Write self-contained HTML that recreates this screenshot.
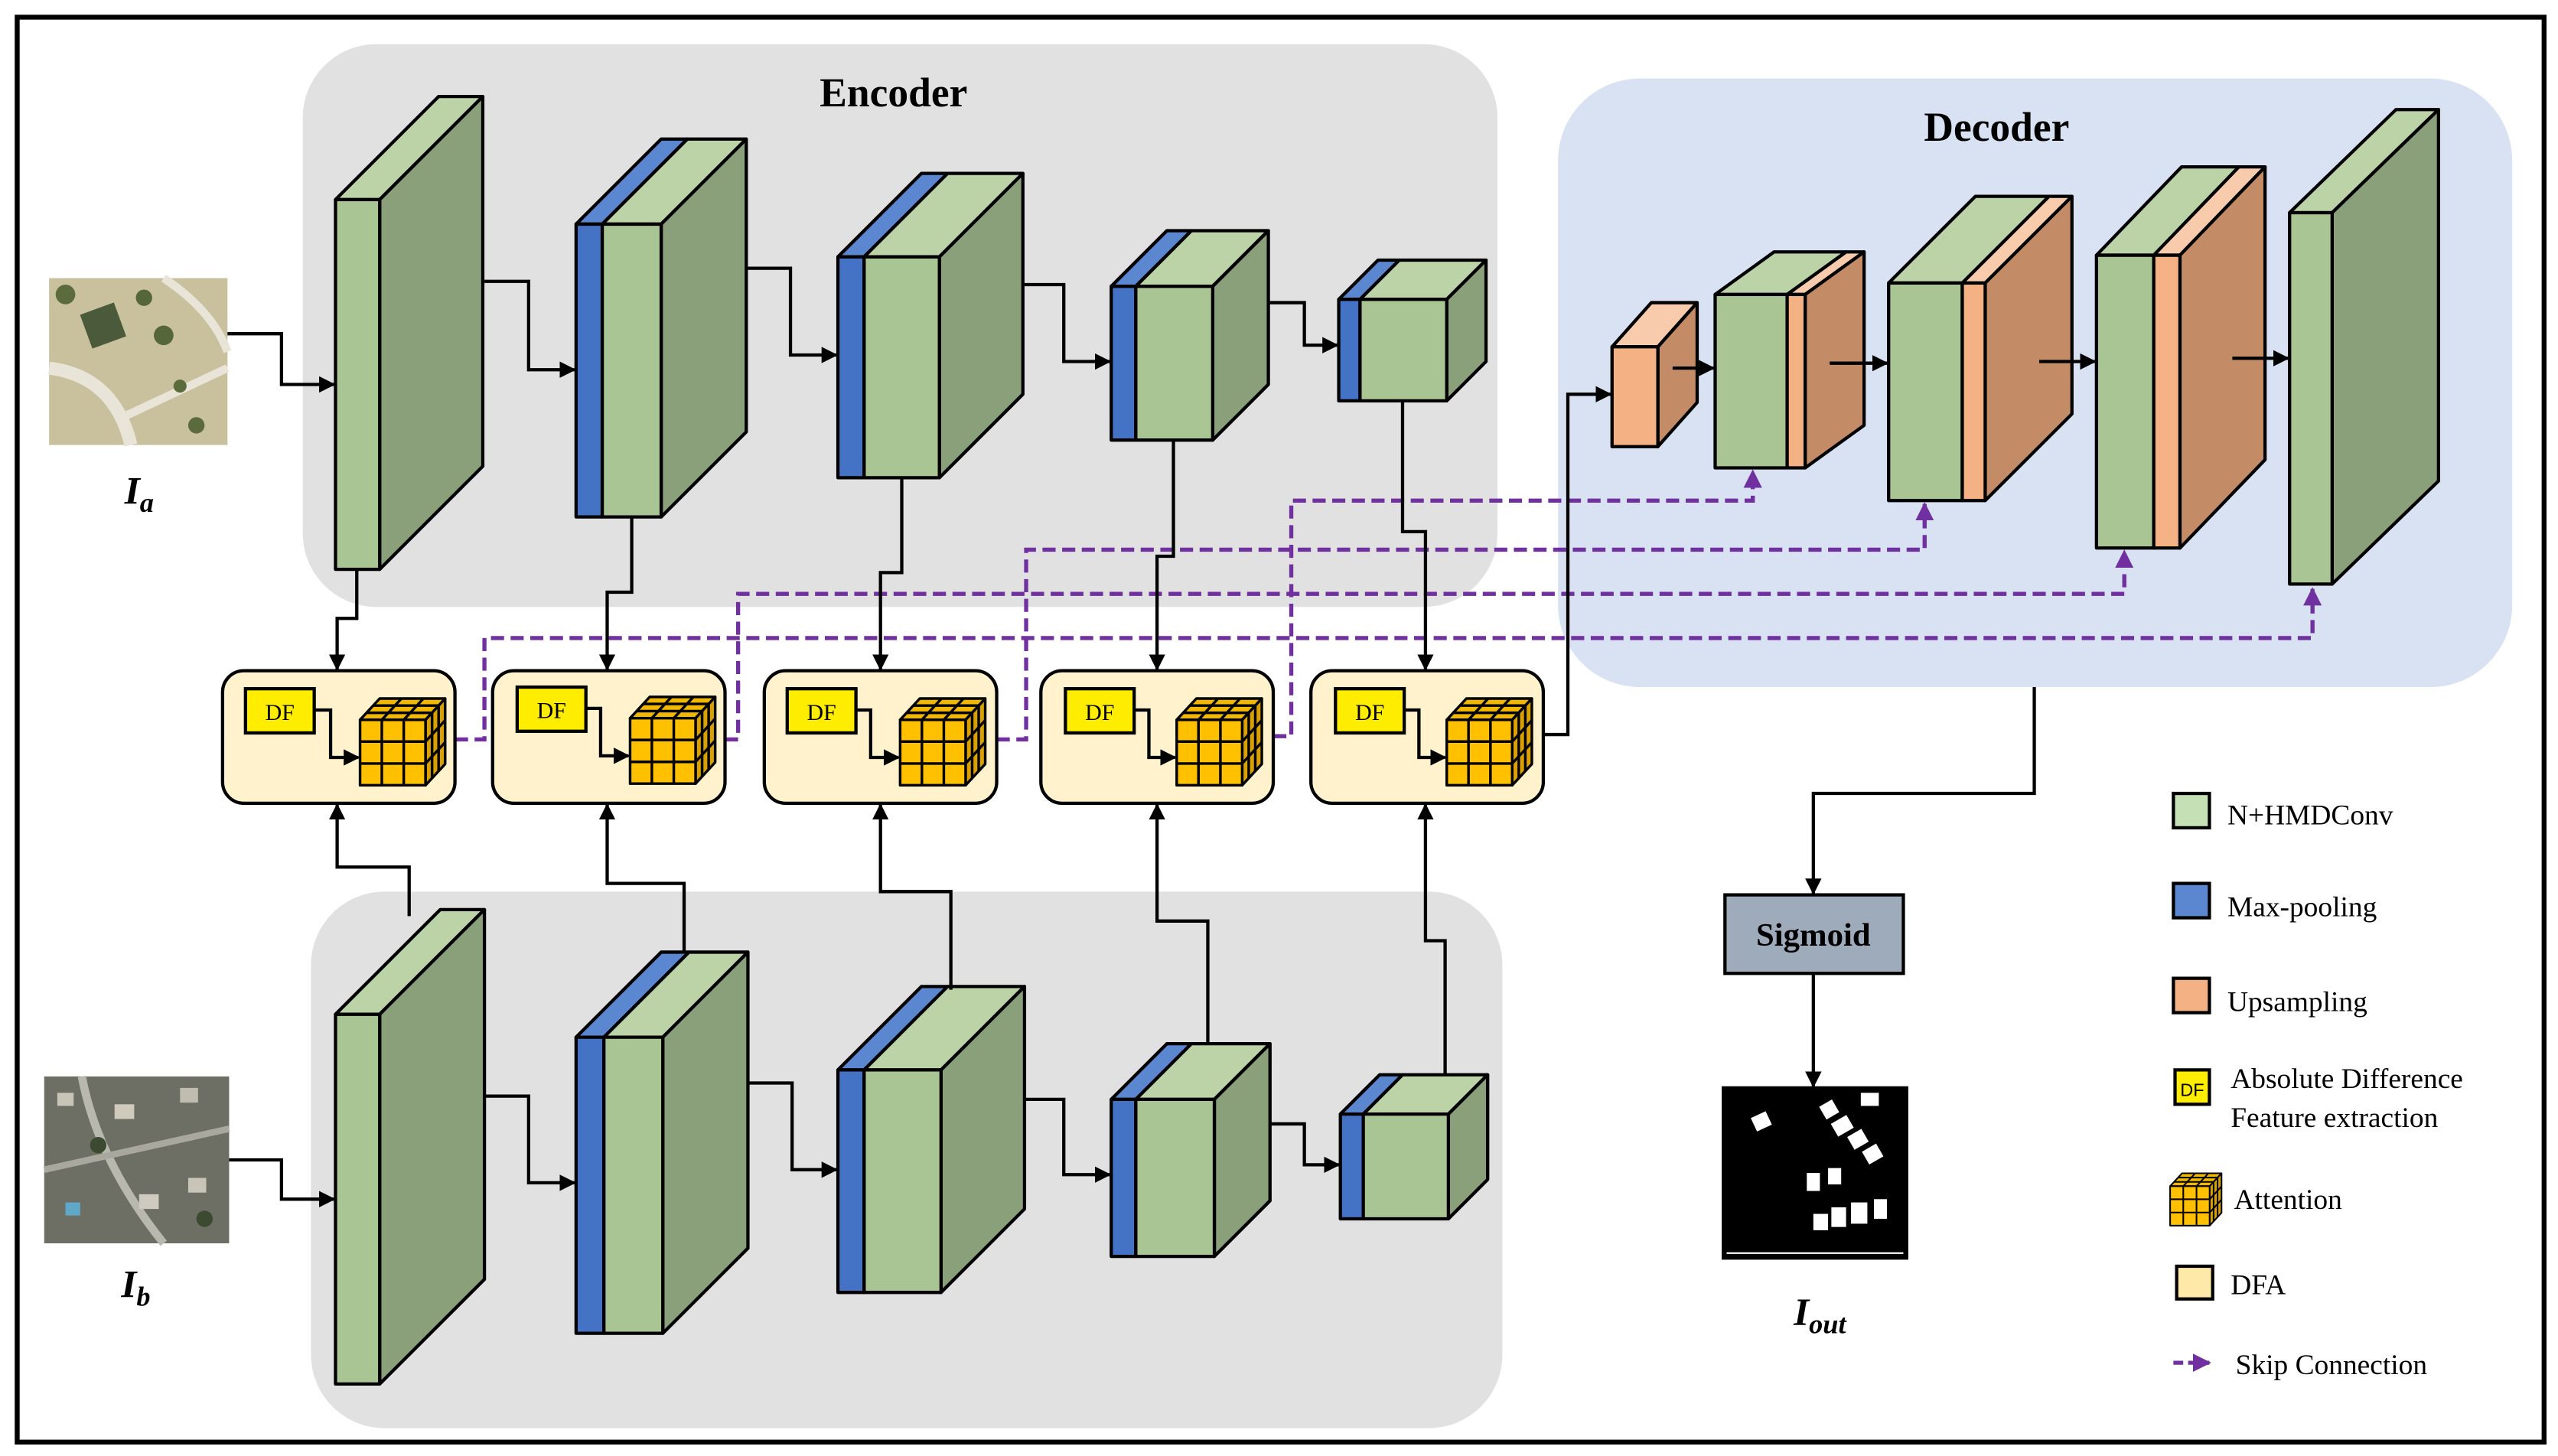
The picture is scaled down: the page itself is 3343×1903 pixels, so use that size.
<!DOCTYPE html>
<html><head><meta charset="utf-8"><style>html,body{margin:0;padding:0;background:#fff}svg{display:block}</style></head>
<body>
<svg width="3343" height="1903" viewBox="0 0 1563 890" preserveAspectRatio="none" xmlns="http://www.w3.org/2000/svg" font-family="'Liberation Serif', serif">
<defs>
<marker id="ar" viewBox="0 0 10 10" refX="9" refY="5" markerWidth="5" markerHeight="5" orient="auto" markerUnits="strokeWidth"><path d="M0,0 L10,5 L0,10 z" fill="#000"/></marker>
<marker id="ap" viewBox="0 0 10 10" refX="9" refY="5" markerWidth="4.5" markerHeight="4.5" orient="auto" markerUnits="strokeWidth"><path d="M0,0 L10,5 L0,10 z" fill="#7030a0"/></marker>
<symbol id="cube" viewBox="0 0 53 54" width="53" height="54" overflow="visible">
<g stroke="#000" stroke-width="1.6" stroke-linejoin="round">
<polygon points="0,13 12,0 52,0 40,13" fill="#f2b800"/>
<polygon points="40,13 52,0 52,40 40,53" fill="#d9a000"/>
<rect x="0" y="13" width="40" height="40" fill="#ffc000"/>
<line x1="13.3" y1="13" x2="13.3" y2="53"/><line x1="26.7" y1="13" x2="26.7" y2="53"/>
<line x1="0" y1="26.3" x2="40" y2="26.3"/><line x1="0" y1="39.7" x2="40" y2="39.7"/>
<line x1="13.3" y1="13" x2="25.3" y2="0"/><line x1="26.7" y1="13" x2="38.7" y2="0"/>
<line x1="4" y1="8.7" x2="44" y2="8.7"/><line x1="8" y1="4.3" x2="48" y2="4.3"/>
<line x1="44" y1="8.7" x2="44" y2="48.7"/><line x1="48" y1="4.3" x2="48" y2="44.3"/>
<line x1="40" y1="26.3" x2="52" y2="13.3"/><line x1="40" y1="39.7" x2="52" y2="26.7"/>
</g></symbol>
</defs>

<!-- frame -->
<rect x="10.5" y="10.5" width="1544" height="871" fill="#fff" stroke="#000" stroke-width="3"/>

<!-- regions -->
<rect x="185" y="27" width="730" height="344" rx="45" fill="#e1e1e1"/>
<rect x="190" y="545" width="728" height="328" rx="45" fill="#e1e1e1"/>
<rect x="952" y="48" width="583" height="372" rx="50" fill="#d9e2f3"/>

<text x="546" y="65" font-size="25" font-weight="bold" text-anchor="middle">Encoder</text>
<text x="1220" y="86" font-size="25" font-weight="bold" text-anchor="middle">Decoder</text>

<!-- input images -->
<g>
<rect x="30" y="170" width="109" height="102" fill="#c9c09e"/>
<rect x="30" y="170" width="109" height="102" fill="none"/>
<path d="M30,225 Q70,230 80,272" stroke="#e8e4d8" stroke-width="8" fill="none"/>
<path d="M75,255 L139,225" stroke="#e8e4d8" stroke-width="5" fill="none"/>
<path d="M100,170 Q130,190 139,215" stroke="#e8e4d8" stroke-width="5" fill="none"/>
<rect x="52" y="188" width="22" height="22" fill="#4b5a3a" transform="rotate(-20 63 199)"/>
<circle cx="40" cy="180" r="6" fill="#5c6b3c"/><circle cx="100" cy="205" r="6" fill="#55673a"/>
<circle cx="120" cy="260" r="5" fill="#5c6b3c"/><circle cx="88" cy="182" r="5" fill="#55673a"/>
<circle cx="110" cy="236" r="4" fill="#5c6b3c"/>
</g>
<g>
<rect x="27" y="658" width="113" height="102" fill="#6e6f64"/>
<path d="M50,658 Q60,710 100,760" stroke="#b8b8ae" stroke-width="5" fill="none"/>
<path d="M27,715 L140,690" stroke="#a8a89e" stroke-width="4" fill="none"/>
<rect x="35" y="668" width="10" height="8" fill="#c9c4b8"/><rect x="70" y="675" width="12" height="9" fill="#d0cabd"/>
<rect x="110" y="665" width="11" height="9" fill="#c0bcb0"/><rect x="85" y="730" width="12" height="9" fill="#cfcabf"/>
<rect x="115" y="720" width="11" height="9" fill="#c9c4b8"/><rect x="40" y="735" width="9" height="8" fill="#5fa8c8"/>
<circle cx="60" cy="700" r="5" fill="#3d4a32"/><circle cx="125" cy="745" r="5" fill="#3d4a32"/>
</g>
<text x="85" y="308" font-size="24" font-weight="bold" font-style="italic" text-anchor="middle">I<tspan font-size="17" dy="5">a</tspan></text>
<text x="83" y="793" font-size="24" font-weight="bold" font-style="italic" text-anchor="middle">I<tspan font-size="17" dy="5">b</tspan></text>

<g stroke="#000" stroke-width="2" stroke-linejoin="round">
<!-- top encoder -->
<polygon points="205,122 268,59 295,59 232,122" fill="#bcd3a8"/><polygon points="232,122 295,59 295,285 232,348" fill="#8aa07a"/><rect x="205" y="122" width="27" height="226" fill="#a9c593"/>

<polygon points="352,137 404,85 420,85 368,137" fill="#5b86d0"/><polygon points="368,137 420,85 456,85 404,137" fill="#bcd3a8"/><polygon points="404,137 456,85 456,264 404,316" fill="#8aa07a"/><rect x="352" y="137" width="16" height="179" fill="#4472c4"/><rect x="368" y="137" width="36" height="179" fill="#a9c593"/>

<polygon points="512,157 563,106 579,106 528,157" fill="#5b86d0"/><polygon points="528,157 579,106 625,106 574,157" fill="#bcd3a8"/><polygon points="574,157 625,106 625,241 574,292" fill="#8aa07a"/><rect x="512" y="157" width="16" height="135" fill="#4472c4"/><rect x="528" y="157" width="46" height="135" fill="#a9c593"/>

<polygon points="679,175 713,141 728,141 694,175" fill="#5b86d0"/><polygon points="694,175 728,141 775,141 741,175" fill="#bcd3a8"/><polygon points="741,175 775,141 775,235 741,269" fill="#8aa07a"/><rect x="679" y="175" width="15" height="94" fill="#4472c4"/><rect x="694" y="175" width="47" height="94" fill="#a9c593"/>

<polygon points="818,183 842,159 855,159 831,183" fill="#5b86d0"/><polygon points="831,183 855,159 908,159 884,183" fill="#bcd3a8"/><polygon points="884,183 908,159 908,221 884,245" fill="#8aa07a"/><rect x="818" y="183" width="13" height="62" fill="#4472c4"/><rect x="831" y="183" width="53" height="62" fill="#a9c593"/>

<!-- bottom encoder -->
<polygon points="205,620 269,556 296,556 232,620" fill="#bcd3a8"/><polygon points="232,620 296,556 296,782 232,846" fill="#8aa07a"/><rect x="205" y="620" width="27" height="226" fill="#a9c593"/>

<polygon points="352,634 404,582 421,582 369,634" fill="#5b86d0"/><polygon points="369,634 421,582 457,582 405,634" fill="#bcd3a8"/><polygon points="405,634 457,582 457,763 405,815" fill="#8aa07a"/><rect x="352" y="634" width="17" height="181" fill="#4472c4"/><rect x="369" y="634" width="36" height="181" fill="#a9c593"/>

<polygon points="512,654 563,603 579,603 528,654" fill="#5b86d0"/><polygon points="528,654 579,603 626,603 575,654" fill="#bcd3a8"/><polygon points="575,654 626,603 626,739 575,790" fill="#8aa07a"/><rect x="512" y="654" width="16" height="136" fill="#4472c4"/><rect x="528" y="654" width="47" height="136" fill="#a9c593"/>

<polygon points="679,672 713,638 728,638 694,672" fill="#5b86d0"/><polygon points="694,672 728,638 776,638 742,672" fill="#bcd3a8"/><polygon points="742,672 776,638 776,734 742,768" fill="#8aa07a"/><rect x="679" y="672" width="15" height="96" fill="#4472c4"/><rect x="694" y="672" width="48" height="96" fill="#a9c593"/>

<polygon points="819,681 843,657 857,657 833,681" fill="#5b86d0"/><polygon points="833,681 857,657 909,657 885,681" fill="#bcd3a8"/><polygon points="885,681 909,657 909,721 885,745" fill="#8aa07a"/><rect x="819" y="681" width="14" height="64" fill="#4472c4"/><rect x="833" y="681" width="52" height="64" fill="#a9c593"/>

<!-- decoder -->
<polygon points="985,212 1009,185 1037,185 1013,212" fill="#f8cbad"/><polygon points="1013,212 1037,185 1037,246 1013,273" fill="#c48c66"/><rect x="985" y="212" width="28" height="61" fill="#f4b183"/>

<polygon points="1048,180 1084,154 1128,154 1092,180" fill="#bcd3a8"/><polygon points="1092,180 1128,154 1139,154 1103,180" fill="#f8cbad"/><polygon points="1103,180 1139,154 1139,260 1103,286" fill="#c48c66"/><rect x="1048" y="180" width="44" height="106" fill="#a9c593"/><rect x="1092" y="180" width="11" height="106" fill="#f4b183"/>

<polygon points="1154,173 1207,120 1252,120 1199,173" fill="#bcd3a8"/><polygon points="1199,173 1252,120 1266,120 1213,173" fill="#f8cbad"/><polygon points="1213,173 1266,120 1266,253 1213,306" fill="#c48c66"/><rect x="1154" y="173" width="45" height="133" fill="#a9c593"/><rect x="1199" y="173" width="14" height="133" fill="#f4b183"/>

<polygon points="1281,156 1333,102 1368,102 1316,156" fill="#bcd3a8"/><polygon points="1316,156 1368,102 1384,102 1332,156" fill="#f8cbad"/><polygon points="1332,156 1384,102 1384,281 1332,335" fill="#c48c66"/><rect x="1281" y="156" width="35" height="179" fill="#a9c593"/><rect x="1316" y="156" width="16" height="179" fill="#f4b183"/>

<polygon points="1399,130 1464,67 1490,67 1425,130" fill="#bcd3a8"/><polygon points="1425,130 1490,67 1490,294 1425,357" fill="#8aa07a"/><rect x="1399" y="130" width="26" height="227" fill="#a9c593"/>
</g>

<!-- skip connections -->
<g stroke="#7030a0" stroke-width="2.5" stroke-dasharray="8,4" fill="none">
<polyline points="278,452 296,452 296,390 1413,390 1413,360" marker-end="url(#ap)"/>
<polyline points="443,452 451,452 451,363 1298,363 1298,337" marker-end="url(#ap)"/>
<polyline points="609,452 627,452 627,336 1176,336 1176,308" marker-end="url(#ap)"/>
<polyline points="778,450 789,450 789,306 1071,306 1071,288" marker-end="url(#ap)"/>
</g>

<!-- DFA boxes -->
<g stroke="#000" stroke-width="2">
<rect x="136" y="410" width="142" height="81" rx="13" fill="#fff2cc"/>
<rect x="301" y="410" width="142" height="81" rx="13" fill="#fff2cc"/>
<rect x="467" y="410" width="142" height="81" rx="13" fill="#fff2cc"/>
<rect x="636" y="410" width="142" height="81" rx="13" fill="#fff2cc"/>
<rect x="801" y="410" width="142" height="81" rx="13" fill="#fff2cc"/>
<rect x="150" y="421" width="42" height="27" fill="#ffed00"/>
<rect x="316" y="420" width="42" height="27" fill="#ffed00"/>
<rect x="481" y="421" width="42" height="27" fill="#ffed00"/>
<rect x="651" y="421" width="42" height="27" fill="#ffed00"/>
<rect x="816" y="421" width="42" height="27" fill="#ffed00"/>
</g>
<g font-size="14" text-anchor="middle">
<text x="171" y="440">DF</text><text x="337" y="439">DF</text><text x="502" y="440">DF</text><text x="672" y="440">DF</text><text x="837" y="440">DF</text>
</g>
<use href="#cube" x="220" y="427"/>
<use href="#cube" x="385" y="426"/>
<use href="#cube" x="550" y="427"/>
<use href="#cube" x="719" y="427"/>
<use href="#cube" x="884" y="427"/>

<!-- black connectors -->
<g stroke="#000" stroke-width="2" fill="none" marker-end="url(#ar)">
<polyline points="192,434 202,434 202,463 219,463"/>
<polyline points="358,433 367,433 367,462 384,462"/>
<polyline points="523,434 532,434 532,463 549,463"/>
<polyline points="693,434 702,434 702,463 718,463"/>
<polyline points="858,434 867,434 867,463 883,463"/>

<polyline points="139,204 172,204 172,235 204,235"/>
<polyline points="296,172 323,172 323,226 351,226"/>
<polyline points="457,164 483,164 483,217 511,217"/>
<polyline points="626,174 650,174 650,221 678,221"/>
<polyline points="775,185 797,185 797,211 817,211"/>

<polyline points="140,709 172,709 172,733 204,733"/>
<polyline points="296,670 323,670 323,723 351,723"/>
<polyline points="457,662 484,662 484,715 511,715"/>
<polyline points="626,672 650,672 650,718 678,718"/>
<polyline points="776,687 797,687 797,712 818,712"/>

<polyline points="218,348 218,378 206,378 206,409"/>
<polyline points="386,316 386,362 371,362 371,409"/>
<polyline points="551,292 551,350 538,350 538,409"/>
<polyline points="717,269 717,340 707,340 707,409"/>
<polyline points="857,245 857,325 871,325 871,409"/>

<polyline points="250,560 250,530 206,530 206,492"/>
<polyline points="418,582 418,540 371,540 371,492"/>
<polyline points="581,605 581,545 538,545 538,492"/>
<polyline points="738,638 738,563 707,563 707,492"/>
<polyline points="883,657 883,575 871,575 871,492"/>

<polyline points="943,449 958,449 958,241 984,241"/>
<polyline points="1022,225 1047,225"/>
<polyline points="1118,222 1153,222"/>
<polyline points="1246,221 1280,221"/>
<polyline points="1364,219 1398,219"/>

<polyline points="1243,420 1243,485 1108,485 1108,546"/>
<polyline points="1108,595 1108,664"/>
</g>

<!-- sigmoid -->
<rect x="1054" y="547" width="109" height="48" fill="#9eabbb" stroke="#000" stroke-width="2"/>
<text x="1108" y="578" font-size="20" font-weight="bold" text-anchor="middle">Sigmoid</text>

<!-- output -->
<rect x="1053" y="665" width="112" height="104" fill="#000" stroke="#000" stroke-width="2"/>
<line x1="1055" y1="766" x2="1163" y2="766" stroke="#fff" stroke-width="1"/>
<g fill="#fff">
<rect x="1071" y="681" width="10" height="9" transform="rotate(-25 1076 685)"/>
<rect x="1113" y="674" width="9" height="9" transform="rotate(-30 1117 678)"/>
<rect x="1120" y="684" width="11" height="9" transform="rotate(-30 1125 688)"/>
<rect x="1130" y="692" width="10" height="9" transform="rotate(-30 1135 696)"/>
<rect x="1139" y="701" width="10" height="9" transform="rotate(-30 1144 705)"/>
<rect x="1137" y="668" width="11" height="8"/>
<rect x="1104" y="717" width="8" height="11"/><rect x="1117" y="714" width="8" height="10"/>
<rect x="1108" y="742" width="9" height="10"/><rect x="1119" y="738" width="9" height="12"/><rect x="1131" y="735" width="10" height="13"/><rect x="1145" y="733" width="8" height="12"/>
</g>
<text x="1112" y="810" font-size="24" font-weight="bold" font-style="italic" text-anchor="middle">I<tspan font-size="17" dy="5">out</tspan></text>

<!-- legend -->
<g stroke="#000" stroke-width="2">
<rect x="1328" y="485" width="22" height="21" fill="#c5e0b4"/>
<rect x="1328" y="540" width="22" height="21" fill="#5b86d0"/>
<rect x="1328" y="598" width="22" height="21" fill="#f4b183"/>
<rect x="1329" y="654" width="21" height="21" fill="#ffed00"/>
<rect x="1330" y="774" width="22" height="20" fill="#ffe9a8"/>
</g>
<text x="1339.5" y="670" font-size="11" text-anchor="middle" font-family="'Liberation Sans', sans-serif">DF</text>
<use href="#cube" x="1326" y="717" width="32" height="33"/>
<line x1="1328" y1="833" x2="1350" y2="833" stroke="#7030a0" stroke-width="2.5" stroke-dasharray="6,3" marker-end="url(#ap)"/>
<g font-size="17.5">
<text x="1361" y="504">N+HMDConv</text>
<text x="1361" y="560">Max-pooling</text>
<text x="1361" y="618">Upsampling</text>
<text x="1363" y="665">Absolute Difference</text>
<text x="1363" y="689">Feature extraction</text>
<text x="1365" y="739">Attention</text>
<text x="1363" y="791">DFA</text>
<text x="1366" y="840">Skip Connection</text>
</g>
</svg>
</body></html>
